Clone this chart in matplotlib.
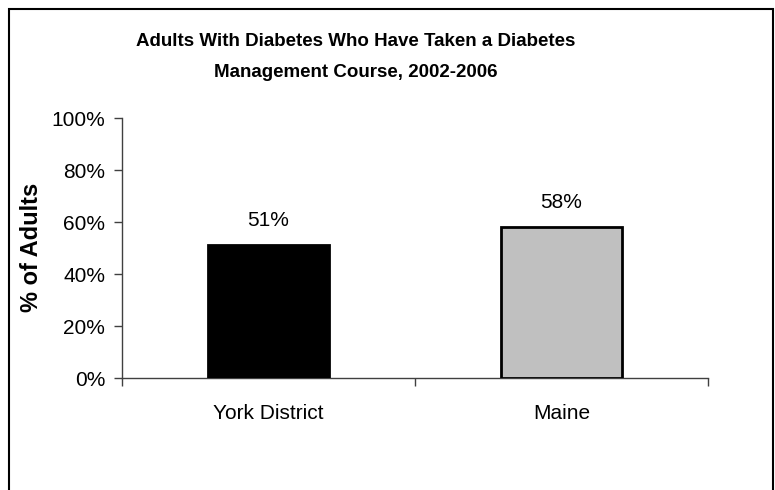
import matplotlib
matplotlib.use("Agg")
import matplotlib.pyplot as plt
from matplotlib.patches import Rectangle
from matplotlib.ticker import FixedLocator, FuncFormatter

categories = ["York District", "Maine"]
values = [51, 58]
bar_colors = ["#000000", "#c0c0c0"]
yticks = [0, 20, 40, 60, 80, 100]
title = "Adults With Diabetes Who Have Taken a Diabetes\nManagement Course, 2002-2006"
ylabel = "% of Adults"

plt.rcParams['font.family'] = ['Liberation Sans', 'DejaVu Sans']

W, H = 775, 490
fig = plt.figure(figsize=(W / 100, H / 100), dpi=100)
ax = fig.add_axes([122 / W, 1 - 378 / H, (708 - 122) / W, (378 - 118) / H])

x = list(range(len(categories)))
ax.bar(x, values, width=0.41, color=bar_colors, edgecolor="black", linewidth=2, zorder=3)
for xi, v in zip(x, values):
    ax.annotate(f"{v}%", (xi, v), xytext=(0, 11), textcoords="offset points",
                ha="center", va="bottom", fontsize=15)

ax.set_xlim(-0.5, len(categories) - 0.5)
ax.set_ylim(0, 100)
ax.set_yticks(yticks)
ax.yaxis.set_major_formatter(FuncFormatter(lambda v, p: f"{int(v)}%"))
ax.tick_params(axis="y", direction="out", length=6, width=1, labelsize=15, pad=6, color="#404040")

ax.xaxis.set_major_locator(FixedLocator([i - 0.5 for i in range(len(categories) + 1)]))
ax.xaxis.set_major_formatter(FuncFormatter(lambda v, p: ""))
ax.xaxis.set_minor_locator(FixedLocator(x))
ax.set_xticklabels(categories, minor=True)
ax.tick_params(axis="x", which="major", direction="out", length=6, width=1, color="#404040")
ax.tick_params(axis="x", which="minor", length=0, labelsize=15, pad=19)

for s in ["top", "right"]:
    ax.spines[s].set_visible(False)
for s in ["left", "bottom"]:
    ax.spines[s].set_color("#404040")
    ax.spines[s].set_linewidth(1)

ax.set_ylabel(ylabel, fontsize=17, fontweight="bold")
ax.yaxis.label.set_va("center")
ax.yaxis.set_label_coords(31 / W, 1 - 247.5 / H, transform=fig.transFigure)

fig.text(356 / W, 1 - 57 / H, title, ha="center", va="center", fontsize=13.5,
         fontweight="bold", linespacing=2.05)

frame = Rectangle((9 / W, -0.1), (773 - 9) / W, 1 - 9 / H + 0.1, transform=fig.transFigure,
                  fill=False, edgecolor="#000000", linewidth=1.5, clip_on=False)
fig.patches.append(frame)

fig.savefig("out.png", dpi=100)
